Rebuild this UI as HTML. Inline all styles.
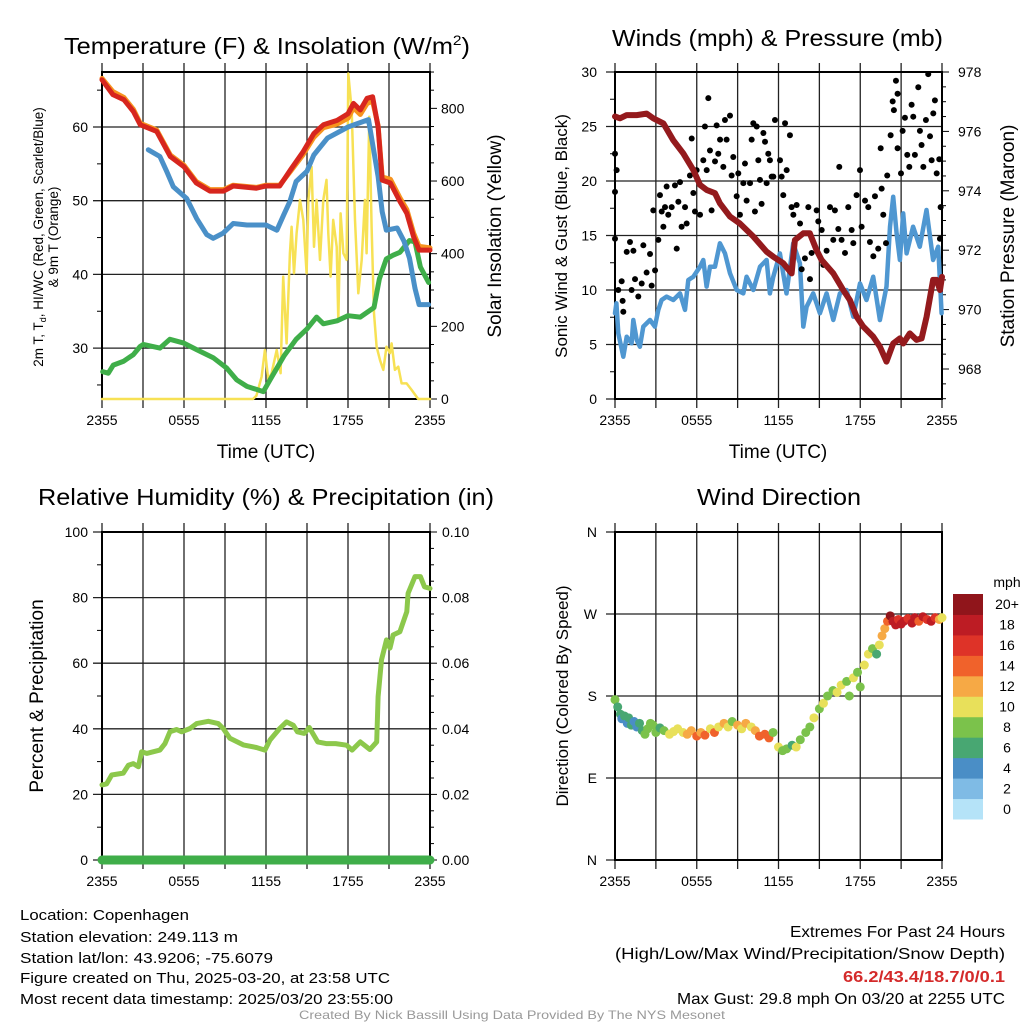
<!DOCTYPE html>
<html><head><meta charset="utf-8"><style>
html,body{margin:0;padding:0;background:#fff;}
svg{display:block;font-family:"Liberation Sans",sans-serif;}
</style></head><body>
<svg id="fig" width="1024" height="1024" viewBox="0 0 1024 1024" xmlns="http://www.w3.org/2000/svg">
<rect width="1024" height="1024" fill="#fff"/>
<g id="g1"></g>
<g id="g2"></g>
<g id="g3"></g>
<g id="g4"></g>

<text x="64" y="54" font-size="23" textLength="406" lengthAdjust="spacingAndGlyphs">Temperature (F) &amp; Insolation (W/m<tspan dy="-9" font-size="14">2</tspan><tspan dy="9">)</tspan></text>
<text x="612" y="46" font-size="23" textLength="331" lengthAdjust="spacingAndGlyphs">Winds (mph) &amp; Pressure (mb)</text>
<text x="38" y="505" font-size="23" textLength="456" lengthAdjust="spacingAndGlyphs">Relative Humidity (%) &amp; Precipitation (in)</text>
<text x="697" y="505" font-size="23" textLength="164" lengthAdjust="spacingAndGlyphs">Wind Direction</text>

<text x="266" y="458" font-size="19" text-anchor="middle">Time (UTC)</text>
<text x="778" y="458" font-size="19" text-anchor="middle">Time (UTC)</text>

<text transform="translate(43,237) rotate(-90)" font-size="13.5" text-anchor="middle">2m T, T<tspan dy="3" font-size="9">d</tspan><tspan dy="-3">, HI/WC (Red, Green, Scarlet/Blue)</tspan></text>
<text transform="translate(58,237) rotate(-90)" font-size="13.5" text-anchor="middle">&amp; 9m T (Orange)</text>
<text transform="translate(501,236) rotate(-90)" font-size="19" text-anchor="middle">Solar Insolation (Yellow)</text>
<text transform="translate(567,236) rotate(-90)" font-size="17" text-anchor="middle">Sonic Wind &amp; Gust (Blue, Black)</text>
<text transform="translate(1014,236) rotate(-90)" font-size="19" text-anchor="middle">Station Pressure (Maroon)</text>
<text transform="translate(43,696) rotate(-90)" font-size="19" text-anchor="middle">Percent &amp; Precipitation</text>
<text transform="translate(568,696) rotate(-90)" font-size="17" text-anchor="middle">Direction (Colored By Speed)</text>

<g font-size="14.5">
<text x="20" y="920" textLength="169" lengthAdjust="spacingAndGlyphs">Location: Copenhagen</text>
<text x="20" y="942" textLength="218" lengthAdjust="spacingAndGlyphs">Station elevation: 249.113 m</text>
<text x="20" y="963" textLength="253" lengthAdjust="spacingAndGlyphs">Station lat/lon: 43.9206; -75.6079</text>
<text x="20" y="983" textLength="370" lengthAdjust="spacingAndGlyphs">Figure created on Thu, 2025-03-20, at 23:58 UTC</text>
<text x="20" y="1004" textLength="373" lengthAdjust="spacingAndGlyphs">Most recent data timestamp: 2025/03/20 23:55:00</text>
</g>
<g font-size="16" text-anchor="end">
<text x="1005" y="937" textLength="215" lengthAdjust="spacingAndGlyphs">Extremes For Past 24 Hours</text>
<text x="1005" y="959" textLength="390" lengthAdjust="spacingAndGlyphs">(High/Low/Max Wind/Precipitation/Snow Depth)</text>
<text x="1005" y="982" fill="#d42a2a" font-weight="bold" textLength="162" lengthAdjust="spacingAndGlyphs">66.2/43.4/18.7/0/0.1</text>
<text x="1005" y="1004" textLength="328" lengthAdjust="spacingAndGlyphs">Max Gust: 29.8 mph On 03/20 at 2255 UTC</text>
</g>
<text x="512" y="1019" font-size="12" fill="#999" text-anchor="middle" textLength="426" lengthAdjust="spacingAndGlyphs">Created By Nick Bassill Using Data Provided By The NYS Mesonet</text>
</svg>
<script>
// ---------- Panel 1 data ----------
const xTickLabels = ["2355","0555","1155","1755","2355"];
const tempTickLabels = [30,40,50,60];
const solarTickLabels = [0,200,400,600,800];
const redTimes = [0,0.8,1.6,2.3,2.8,4,5,6,6.9,7.9,8.9,9.6,11.3,12,13,13.8,14.7,15.5,16.2,17.2,18,18.4,18.9,19.4,19.8,20.2,20.5,21.1,21.8,22.3,22.8,23.2,24];
const redTemps = [66.4,64.4,63.7,62.1,60.3,59.4,56,54.6,52.4,51.3,51.3,52,51.7,52,52,54.2,56.6,59.1,60.3,60.9,61.8,63.2,62.3,63.9,64.1,60,52.8,52.4,49.9,48.3,45.1,43.3,43.3];
const orangeTemps = [66.6,64.8,64.0,62.4,60.5,59.6,56.2,54.8,52.6,51.5,51.5,52.1,51.8,52.1,52.1,54.0,56.2,58.6,59.9,60.4,61.2,62.6,61.7,63.2,63.5,60.2,53.2,52.9,50.4,48.8,45.6,43.8,43.6];
const blueTimes = [3.39,4.24,4.73,5.22,6.2,6.92,7.66,8.14,8.87,9.6,10.6,11.3,12,12.8,13.3,13.75,14.2,15,15.5,16.5,18,19.5,20.2,20.5,20.8,21.6,22.1,22.5,22.9,23.2,23.9];
const blueTemps = [56.9,56.0,54.0,51.9,50.3,47.6,45.4,44.9,45.6,46.9,46.7,46.7,46.7,46.0,48.1,49.9,52.6,54,56.2,58.5,60,61,53.3,48.5,46,46.3,44.5,42.2,38.1,35.9,35.9];
const greenTimes = [0.05,0.46,0.83,1.56,2.29,2.78,3.02,4.24,4.97,5.95,6.92,8.14,9.12,9.85,10.6,11.3,11.8,12.3,13.3,14.2,15,15.7,16.2,17.2,18,18.9,19.9,20.3,20.8,21.3,21.8,22.5,22.9,23.3,23.9];
const greenTemps = [26.8,26.6,27.7,28.2,29.1,30.2,30.5,30,31.2,30.7,29.8,28.7,27.3,25.7,24.8,24.4,24.1,25.7,28.9,31.2,32.6,34.2,33.3,33.7,34.4,34.2,35.5,39.4,42.1,42.6,43,44.6,44.4,41,38.9];
const solarTimes = [0,11.05,11.3,11.68,11.92,12.17,12.41,12.78,13.07,13.26,13.51,13.75,13.87,14.05,14.24,14.49,14.73,14.97,15.1,15.34,15.51,15.7,15.95,16.19,16.43,16.56,16.73,16.92,17.17,17.29,17.46,17.66,17.9,18.02,18.27,18.51,18.75,19,19.24,19.36,19.56,19.73,19.9,20.09,20.34,20.58,20.82,21.07,21.19,21.43,21.68,21.92,22.29,22.65,23.14,24];
const solarValues = [0,0,9,61,135,52,71,135,71,337,153,401,474,346,456,548,493,346,548,639,419,548,383,548,603,456,337,493,419,217,511,401,383,896,795,493,291,383,548,401,777,474,236,144,107,80,144,126,153,80,89,43,43,25,0,0];
// ---------- Panel 2 data ----------
const windTickLabels = [0,5,10,15,20,25,30];
const pressTickLabels = [968,970,972,974,976,978];
const presTimes = [0,0.37,0.86,1.59,2.32,2.81,3.55,4.28,5.01,5.75,6.24,6.72,7.34,7.7,8.44,9.17,10.15,11.13,11.62,12.35,12.96,13.2,13.82,14.3,14.8,15.16,16.02,16.75,17.24,17.73,18.22,18.95,19.44,19.93,20.42,20.91,21.15,21.64,22.13,22.5,22.87,23.35,23.6,23.85,24];
const presValues = [976.5,976.44,976.55,976.55,976.6,976.44,976.27,975.7,975.26,974.7,974.2,974.03,973.92,973.58,973.13,972.9,972.46,971.95,971.78,971.56,971.22,972.34,972.57,972.57,972.0,971.67,971.22,970.66,970.32,969.76,969.43,969.09,968.75,968.25,968.86,969.03,968.86,969.2,968.98,969.03,969.76,971.0,971.0,970.66,971.1];
const windTimes = [0,0.1,0.24,0.61,0.86,1.22,1.34,1.59,1.83,2.08,2.57,2.93,3.18,3.42,3.79,4.28,4.77,5.14,5.38,5.75,6.24,6.48,6.72,6.97,7.34,7.7,8.07,8.44,8.93,9.42,9.66,10.15,10.64,11.13,11.37,11.62,12.1,12.59,13.08,13.57,13.82,14.06,14.55,15.04,15.53,16.02,16.51,17,17.49,17.98,18.46,18.95,19.44,19.93,20.18,20.42,20.67,20.91,21.15,21.4,21.88,22.37,22.86,23.35,23.72,23.97];
const windSpeeds = [7.86,8.78,6.02,3.88,5.72,5.11,7.25,5.41,4.8,6.64,7.25,6.64,8.17,9.08,9.39,9.08,9.69,8.17,10.92,11.22,12.14,12.75,10.31,12.14,12.14,14.28,13.36,11.53,10.0,9.69,11.22,10,12.14,12.75,9.69,11.22,13.36,9.69,14.28,12.45,6.64,8.47,9.69,7.86,9.69,7.25,9.69,10,7.55,10.61,9.08,11.22,7.25,10.31,15.81,18.56,15.2,12.75,17.03,13.36,15.81,13.97,17.34,12.75,13.97,7.86];
const gustTimes = [0,0,0.12,0,0.24,0.56,0.61,0.49,0.86,1.1,1.35,1.22,1.47,1.71,1.96,2.08,2.32,2.57,2.69,2.81,2.94,3.18,3.3,3.43,3.55,3.67,3.79,3.91,4.16,4.4,4.53,4.65,4.77,4.89,5.14,5.26,5.5,5.63,5.75,5.87,5.99,6.24,6.48,6.6,6.73,6.85,6.97,7.09,7.34,7.46,7.58,7.71,7.95,8.07,8.19,8.44,8.56,8.68,8.93,9.05,9.17,9.42,9.54,9.66,9.91,10.03,10.15,10.27,10.4,10.52,10.64,10.76,10.89,11.01,11.13,11.25,11.37,11.5,11.62,11.74,12.11,12.23,12.35,12.48,12.6,12.84,12.96,13.09,13.33,13.58,13.7,13.94,14.19,14.31,14.43,14.8,14.92,15.17,15.29,15.53,15.78,16.02,16.14,16.39,16.46,16.63,16.88,17.12,17.37,17.49,17.73,17.98,18.1,18.35,18.59,18.71,18.96,19.08,19.32,19.5,19.57,19.69,19.89,19.98,20.23,20.38,20.47,20.62,20.74,20.74,20.99,21.11,21.28,21.45,21.6,21.77,21.89,22.01,22.26,22.38,22.5,22.63,22.82,22.99,23.12,23.24,23.36,23.48,23.61,23.8,23.9,23.85];
const gustSpeeds = [14.7,22.5,21,19,10,9,8,10.8,13.5,14.4,13.6,10,11,9.4,10.6,14.1,11.6,13.3,10.4,17.3,11.8,14.6,18.7,17.2,15.8,17.6,19.5,16.9,17.6,19.6,13.8,18.1,19.9,15.8,17.6,16.1,20.5,23.9,18.9,17.2,21,16.9,21.9,25,21,27.6,22.8,17.3,21.8,25.1,22.5,23.8,21.3,25.6,23.8,26,20.5,22.2,18.6,20.7,16.9,19.8,21.6,18.2,19.8,23.8,25.3,17.2,25,21.9,20.1,17.9,24.4,23.6,19.8,22.5,21.9,20.4,20.4,25.6,21.9,20.4,18.7,25.3,21,24.2,17.6,16.9,17.8,16.1,11.9,12.9,17.6,11,13.4,17.3,16.3,15.5,12.3,13.6,17.6,14.6,17.3,15.6,21.3,14.6,13.4,17.6,15.5,14.3,18.7,21,15.8,18.2,17.6,14.4,13.1,18.6,13.8,23,19.3,16.9,14.3,20.5,24.2,27.3,26.5,29.2,28,23,20.7,24.6,25.8,22.4,21.3,27,25.9,22.4,28.6,24.6,23.3,21.3,25.6,29.8,24.1,21.9,26.2,27.4,20.7,22,17.6,14.7];
// ---------- Panel 3 data ----------
const rhTickLabels = [0,20,40,60,80,100];
const precipTickLabels = ["0.00","0.02","0.04","0.06","0.08","0.10"];
const rhTimes = [0,0.34,0.71,1.56,1.93,2.29,2.66,2.9,3.27,4.24,4.61,4.97,5.46,5.83,6.44,6.92,7.78,8.51,8.87,9.36,10.34,11.3,11.92,12.29,13.0,13.5,14,14.3,14.8,15.17,15.78,16.4,17.1,17.9,18.3,18.9,19.6,20.1,20.2,20.45,20.82,21.07,21.3,21.8,22.3,22.4,22.9,23.3,23.6,24];
const rhValues = [22.9,23.2,25.9,26.5,28.9,29.4,28.4,33,32.5,33.5,35.5,39.1,39.8,39.1,40.1,41.6,42.3,41.6,40.1,37.1,35.1,34.3,33.5,36.6,40.1,42.1,41.1,39.1,38.6,40.4,36,35.5,35.5,35,33.5,36,33.7,36,49.8,61,67.1,64.6,68.6,69.6,75.7,81.3,86.4,86.4,83.3,82.8];
const precipTimes = [0,24];
const precipValues = [0,0];
// ---------- Panel 4 data ----------
const dirTickLabels = ["N","E","S","W","N"];
const dirTimes = [0.0,0.2,0.4,0.5,0.7,0.9,1.0,1.2,1.4,1.6,1.8,2.0,2.2,2.4,2.6,2.8,3.0,3.3,3.6,4.0,4.3,4.6,5.0,5.3,5.6,6.0,6.3,6.6,7.0,7.3,7.6,8.0,8.3,8.6,9.0,9.3,9.6,10.0,10.3,10.6,11.0,11.3,11.6,12.0,12.3,12.6,13.0,13.3,13.6,14.0,14.3,14.6,15.0,15.3,15.6,16.0,16.3,16.6,17.0,17.2,17.5,17.8,18.0,18.3,18.6,18.9,19.2,19.4,19.6,19.8,20.0,20.2,20.4,20.6,20.8,21.0,21.2,21.5,21.8,22.0,22.3,22.6,22.9,23.2,23.5,23.8,24.0];
const dirValues = [176,168,160,155,158,150,156,148,152,146,150,142,138,144,150,148,140,145,142,138,141,144,140,138,142,136,140,137,144,140,146,150,146,152,148,144,150,146,142,136,138,134,140,124,120,122,126,124,132,140,146,156,166,172,180,186,184,192,196,180,200,206,190,214,226,232,226,236,246,254,262,268,262,258,264,259,262,265,260,266,262,267,264,262,266,264,266];
const dirSpeeds = [7,6,5,4,5,4,6,5,4,4,6,5,8,7,8,7,8,6,8,10,10,10,9,12,12,13,12,14,10,13,10,12,10,8,12,10,12,10,12,13,14,14,8,10,8,8,6,10,8,8,8,9,8,10,8,8,9,10,8,8,10,8,7,9,10,8,6,10,11,12,14,19,17,18,15,18,17,16,17,17,14,17,16,17,15,12,10];
const speedLabels = ["0","2","4","6","8","10","12","14","16","18","20+"];
const speedColors = ["#b5e3f8","#7fbbe5","#4a8ec6","#48a772","#7bc24b","#e8e05a","#f6a945","#f0622b","#de3328","#bd1c24","#90151b"];

// ---------- helpers ----------
const NS = "http://www.w3.org/2000/svg";
function mk(parent, tag, attrs){
  const el = document.createElementNS(NS, tag);
  for (const k in attrs) el.setAttribute(k, attrs[k]);
  parent.appendChild(el);
  return el;
}
function frame(g, L, R, T, B, hLines){
  for (let k=0;k<=8;k++){
    const x = L + k*(R-L)/8;
    const ln = mk(g,'line',{x1:x,y1:T-9,x2:x,y2:B+9,stroke:'#222','stroke-width':1.3});
    
    
  }
  hLines.forEach(y=>{
    const ln = mk(g,'line',{x1:L-9,y1:y,x2:R,y2:y,stroke:'#222','stroke-width':1.3});
    
    
  });
  const b = mk(g,'rect',{x:L,y:T,width:R-L,height:B-T,fill:'none',stroke:'#000','stroke-width':2});
  
  
}
function xLabels(g, L, R, y){
  xTickLabels.forEach((t,i)=>{
    const x = L + i*(R-L)/4;
    const tx = mk(g,'text',{x:x,y:y,'font-size':14,'text-anchor':'middle'});
    tx.textContent = t;
    
    
  });
}
function poly(g, xs, ys, fx, fy, color, w, name){
  const pts = xs.map((t,i)=>fx(t).toFixed(1)+','+fy(ys[i]).toFixed(1)).join(' ');
  const p = mk(g,'polyline',{points:pts,fill:'none',stroke:color,'stroke-width':w,'stroke-linejoin':'round','stroke-linecap':'round'});
  
  
  return p;
}
function rightTicks(g, R, ys, minor){
  ys.forEach(y=>{ mk(g,'line',{x1:R,y1:y,x2:R+(minor?4:7),y2:y,stroke:'#000','stroke-width':1}); });
}

// ---------- Panel 1 ----------
(function(){
  const g = document.getElementById('g1');
  const L=102,R=430,T=72,B=399;
  const fx = h => L + h*(R-L)/24;
  const fy = v => 127 - (v-60)*7.37;
  const fs = w => B - w*0.3633;
  frame(g,L,R,T,B,tempTickLabels.map(fy));
  [25,35,45,55,65].forEach(v=>mk(g,'line',{x1:L-5,y1:fy(v),x2:L,y2:fy(v),stroke:'#000'}));
  tempTickLabels.forEach(v=>{
    const t = mk(g,'text',{x:L-14,y:fy(v)+5,'font-size':14,'text-anchor':'end'}); t.textContent=v;
    
    
  });
  for (let w=0; w<=900; w+=50) rightTicks(g,R,[fs(w)], w%200!==0);
  solarTickLabels.forEach(v=>{
    const t = mk(g,'text',{x:R+11,y:fs(v)+5,'font-size':14}); t.textContent=v;
    
    
  });
  xLabels(g,L,R,425);
  poly(g,solarTimes,solarValues,fx,fs,'#f7e154',2.5,'solar-insolation-line');
  poly(g,greenTimes,greenTemps,fx,fy,'#3fae49',5,'heat-index-line');
  poly(g,blueTimes,blueTemps,fx,fy,'#4a90c8',5,'dewpoint-line');
  poly(g,redTimes,orangeTemps,fx,fy,'#f7931e',5,'temp-9m-line');
  poly(g,redTimes,redTemps,fx,fy,'#d7261e',5,'temp-2m-line');
})();

// ---------- Panel 2 ----------
(function(){
  const g = document.getElementById('g2');
  const L=615,R=942,T=72,B=399;
  const fx = h => L + h*(R-L)/24;
  const fy = v => B - v*10.9;
  const fp = p => T + (978-p)*29.7;
  frame(g,L,R,T,B,windTickLabels.map(fy));
  [2.5,7.5,12.5,17.5,22.5,27.5].forEach(v=>mk(g,'line',{x1:L-5,y1:fy(v),x2:L,y2:fy(v),stroke:'#000'}));
  windTickLabels.forEach(v=>{
    const t = mk(g,'text',{x:L-18,y:fy(v)+5,'font-size':14,'text-anchor':'end'}); t.textContent=v;
    
    
  });
  for (let p=967; p<=978; p+=0.5) rightTicks(g,R,[fp(p)], Math.abs(p%2)>0.01);
  pressTickLabels.forEach(v=>{
    const t = mk(g,'text',{x:R+16,y:fp(v)+5,'font-size':14}); t.textContent=v;
    
    
  });
  xLabels(g,L,R,425);
  poly(g,windTimes,windSpeeds,fx,fy,'#4f97d1',4.5,'sonic-wind-line');
  gustTimes.forEach((t,i)=>{
    const c = mk(g,'circle',{cx:fx(t),cy:fy(gustSpeeds[i]),r:3,fill:'#000'});
    
    
  });
  poly(g,presTimes,presValues,fx,fp,'#941a1d',6,'pressure-line');
})();

// ---------- Panel 3 ----------
(function(){
  const g = document.getElementById('g3');
  const L=102,R=430,T=532,B=860;
  const fx = h => L + h*(R-L)/24;
  const fy = v => B - v*3.28;
  const fpr = p => B - p*3280;
  frame(g,L,R,T,B,rhTickLabels.map(fy));
  [10,30,50,70,90].forEach(v=>mk(g,'line',{x1:L-5,y1:fy(v),x2:L,y2:fy(v),stroke:'#000'}));
  rhTickLabels.forEach(v=>{
    const t = mk(g,'text',{x:L-14,y:fy(v)+5,'font-size':14,'text-anchor':'end'}); t.textContent=v;
    
    
  });
  for (let k=0;k<=20;k++) rightTicks(g,R,[B-k*(B-T)/20], k%4!==0);
  precipTickLabels.forEach((v,i)=>{
    const t = mk(g,'text',{x:R+12,y:fpr(i*0.02)+5,'font-size':14}); t.textContent=v;
    
    
  });
  xLabels(g,L,R,886);
  poly(g,rhTimes,rhValues,fx,fy,'#8cc84b',5,'relative-humidity-line');
  poly(g,precipTimes,precipValues,fx,fpr,'#3fae49',9,'precipitation-line');
})();

// ---------- Panel 4 ----------
(function(){
  const g = document.getElementById('g4');
  const L=615,R=942,T=532,B=860;
  const fx = h => L + h*(R-L)/24;
  const fy = d => B - d*(B-T)/360;
  frame(g,L,R,T,B,[0,90,180,270,360].map(fy));
  dirTickLabels.forEach((v,i)=>{
    const t = mk(g,'text',{x:L-18,y:fy(i*90)+5,'font-size':14,'text-anchor':'end'}); t.textContent=v;
    
    
  });
  xLabels(g,L,R,886);
  dirTimes.forEach((t,i)=>{
    const idx = Math.min(10, Math.max(0, Math.round(dirSpeeds[i]/2)));
    const c = mk(g,'circle',{cx:fx(t),cy:fy(dirValues[i]),r:4.5,fill:speedColors[idx]});
    
    
  });
  const cb = mk(g,'g',{});
  
  
  const top=594, bot=819, n=speedColors.length, h=(bot-top)/n;
  speedColors.forEach((c,i)=>{
    const y = bot - (i+1)*h;
    const r = mk(cb,'rect',{x:953,y:y,width:30,height:h+0.5,fill:c});
    
    
    const t = mk(cb,'text',{x:1007,y:y+h/2+5,'font-size':14,'text-anchor':'middle'});
    t.textContent = speedLabels[i];
    
    
  });
  const u = mk(cb,'text',{x:1007,y:587,'font-size':14,'text-anchor':'middle'});
  u.textContent='mph';
  
  
})();
</script>
</body></html>
